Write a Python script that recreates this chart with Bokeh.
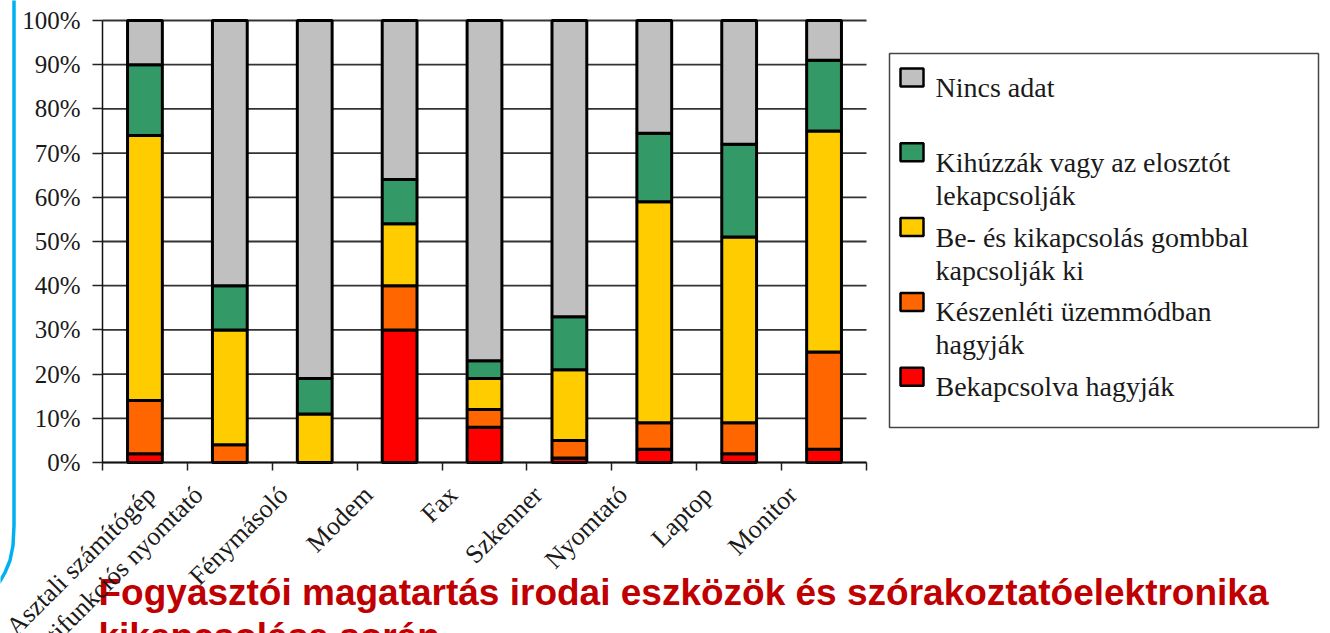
import math
from bokeh.plotting import figure
from bokeh.models import Range1d, FixedTicker, ColumnDataSource, PrintfTickFormatter
from bokeh.core.properties import value
from bokeh.embed import file_html
from bokeh.resources import INLINE

# ---------------- data ----------------
categories = ["Asztali számítógép", "Multifunkciós nyomtató", "Fénymásoló", "Modem",
              "Fax", "Szkenner", "Nyomtató", "Laptop", "Monitor"]

# stack order: bottom -> top
bekapcsolva = [2, 0, 0, 30, 8, 1, 3, 2, 3]
keszenleti = [12, 4, 0, 10, 4, 4, 6, 7, 22]
gombbal = [60, 26, 11, 14, 7, 16, 50, 42, 50]
kihuzzak = [16, 10, 8, 10, 4, 12, 15.5, 21, 16]
nincs_adat = [10, 60, 81, 36, 77, 67, 25.5, 28, 9]

series_keys = ["bekapcsolva", "keszenleti", "gombbal", "kihuzzak", "nincs_adat"]
series_labels = ["Bekapcsolva hagyják",
                 "Készenléti üzemmódban\nhagyják",
                 "Be- és kikapcsolás gombbal\nkapcsolják ki",
                 "Kihúzzák vagy az elosztót\nlekapcsolják",
                 "Nincs adat"]
series_colors = ["#FF0000", "#FF6600", "#FFCC00", "#339966", "#C0C0C0"]

y_ticks = list(range(0, 101, 10))

title_lines = ["Fogyasztói magatartás irodai eszközök és szórakoztatóelektronika",
               "kikapcsolása során"]

# ---------------- layout geometry (canvas pixels) ----------------
W, H = 1330, 633
AL, AR, AT, AB = 102, 866, 20, 462      # plot area edges inside the canvas
N = len(categories)
kx = N / (AR - AL)                      # data units per pixel
ky = 100 / (AB - AT)

xs = [i + 0.5 for i in range(N)]
source = ColumnDataSource(dict(x=xs, bekapcsolva=bekapcsolva, keszenleti=keszenleti,
                               gombbal=gombbal, kihuzzak=kihuzzak, nincs_adat=nincs_adat))

p = figure(width=W, height=H,
           x_range=Range1d(-AL * kx, (W - AL) * kx),
           y_range=Range1d(-(H - AB) * ky, 100 + AT * ky),
           output_backend="svg", toolbar_location=None,
           min_border=0, min_border_left=0, min_border_right=0,
           min_border_top=0, min_border_bottom=0)
# canvas-pixel coordinate system for decorations
p.extra_x_ranges = {"px": Range1d(start=0, end=W)}
p.extra_y_ranges = {"py": Range1d(start=H, end=0)}
p.outline_line_color = None
p.background_fill_color = "white"
p.border_fill_color = "white"
p.xgrid.visible = False
p.ygrid.visible = False

# horizontal gridlines over the plot area
p.segment(x0=[0] * len(y_ticks), x1=[N] * len(y_ticks), y0=y_ticks, y1=y_ticks,
          line_color="#333333", line_width=1.8, level="underlay")

p.vbar_stack(series_keys, x="x", width=0.41, color=series_colors, source=source,
             line_color="black", line_width=3)

SERIF = "Liberation Serif"

# y axis
p.yaxis.fixed_location = 0
p.yaxis.bounds = (0, 100)
p.yaxis.ticker = FixedTicker(ticks=y_ticks)
p.yaxis.formatter = PrintfTickFormatter(format="%d%%")
p.yaxis.major_label_text_font = SERIF
p.yaxis.major_label_text_font_size = "25px"
p.yaxis.major_label_text_color = "#1a1a1a"
p.yaxis.major_tick_out = 10
p.yaxis.major_tick_in = 0
p.yaxis.major_tick_line_color = "#222222"
p.yaxis.major_tick_line_width = 1.5
p.yaxis.minor_tick_line_color = None
p.yaxis.axis_line_color = "#111111"
p.yaxis.axis_line_width = 1.5
p.yaxis.major_label_standoff = 12

# x axis: labels near category centres, ticks at category boundaries
label_pos = [round(i + 0.13, 2) for i in range(N)]
p.xaxis.fixed_location = 0
p.xaxis.bounds = (0, N)
p.xaxis.ticker = FixedTicker(ticks=label_pos, minor_ticks=list(range(N + 1)))
p.xaxis.major_label_overrides = {lp: c for lp, c in zip(label_pos, categories)}
p.xaxis.major_label_orientation = math.pi / 4
p.xaxis.major_label_text_font = SERIF
p.xaxis.major_label_text_font_size = "26px"
p.xaxis.major_label_text_color = "#1a1a1a"
p.xaxis.major_label_standoff = 20
p.xaxis.major_tick_out = 0
p.xaxis.major_tick_in = 0
p.xaxis.major_tick_line_color = None
p.xaxis.minor_tick_out = 8
p.xaxis.minor_tick_in = 0
p.xaxis.minor_tick_line_color = "#222222"
p.xaxis.minor_tick_line_width = 1.5
p.xaxis.axis_line_color = "#111111"
p.xaxis.axis_line_width = 1.5

# ---------------- legend (drawn in canvas-pixel ranges) ----------------
p.quad(left=[889], right=[1318], top=[53], bottom=[427], x_range_name="px", y_range_name="py",
       fill_alpha=0, line_color="#444444", line_width=1.5)
order = list(range(len(series_keys)))[::-1]   # top entry = top of stack
sq_y = [77 + 74.8 * slot for slot in range(len(order))]
p.quad(left=[900] * len(order), right=[923] * len(order),
       top=[c - 9 for c in sq_y], bottom=[c + 9 for c in sq_y],
       fill_color=[series_colors[si] for si in order],
       line_color="black", line_width=2.5, x_range_name="px", y_range_name="py")
lx, ly, lt = [], [], []
for slot, si in enumerate(order):
    for li, line in enumerate(series_labels[si].split("\n")):
        lx.append(935)
        ly.append(sq_y[slot] + 10 + 33 * li)
        lt.append(line)
p.text(x=lx, y=ly, text=lt, x_range_name="px", y_range_name="py",
       text_font=value(SERIF), text_font_size=value("28px"), text_color="#1a1a1a",
       text_baseline="alphabetic", text_align="left")

# ---------------- title ----------------
p.text(x=[98, 98], y=[592, 636], text=title_lines, x_range_name="px", y_range_name="py",
       text_font=value("Liberation Sans"), text_font_style="bold",
       text_font_size=value("37px"), text_color="#C00000",
       text_baseline="alphabetic", text_align="left")

# ---------------- slide decoration: blue frame edge ----------------
p.line(x=[13.5, 13.5, 12.5, 9.5, 4.5, 0, -7], y=[-10, 525, 545, 560, 572, 580, 590],
       x_range_name="px", y_range_name="py", line_color="#00B0F0", line_width=3.5)

open("out.html", "w").write(file_html(p, INLINE))
